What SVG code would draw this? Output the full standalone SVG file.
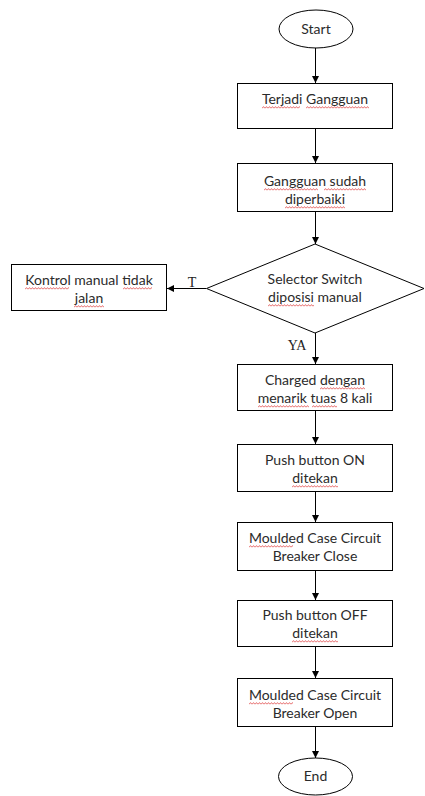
<svg xmlns="http://www.w3.org/2000/svg" width="425" height="796" viewBox="0 0 425 796">
<style>
.box{fill:#fff;stroke:#000;stroke-width:1}
.t{font-family:Lato,"Liberation Sans",sans-serif;font-size:14px;fill:#2b2b2b;text-anchor:middle}
.lbl{font-family:"Liberation Serif",serif;font-size:14px;fill:#222}
.c{stroke:#000;stroke-width:1;fill:none;marker-end:url(#ah)}
.w{fill:url(#wave)}
</style>
<defs>
<marker id="ah" markerWidth="8" markerHeight="8" refX="7" refY="4" orient="auto" markerUnits="userSpaceOnUse">
<path d="M0,0.5 L7,4 L0,7.5 Z" fill="#000"/>
</marker>
<pattern id="wave" patternUnits="userSpaceOnUse" width="3" height="3">
<path d="M0,2.4 L1.5,0.6 L3,2.4" fill="none" stroke="#e04848" stroke-width="0.8"/>
</pattern>
</defs>
<rect width="425" height="796" fill="#fff"/>
<g id="start">
<ellipse class="box" cx="316" cy="29" rx="37" ry="19"/>
<text class="t" x="316" y="34">Start</text>
</g>
<g id="n1">
<rect class="box" x="237.5" y="83.5" width="155" height="45"/>
<text class="t" x="315" y="104">Terjadi Gangguan</text>
<rect class="w" transform="translate(262,106)" width="38" height="3"/>
<rect class="w" transform="translate(306,106)" width="63" height="3"/>
</g>
<g id="n2">
<rect class="box" x="237.5" y="163.5" width="155" height="48"/>
<text class="t" x="315" y="186">Gangguan sudah</text>
<text class="t" x="315" y="204">diperbaiki</text>
<rect class="w" transform="translate(264,188)" width="54" height="3"/>
<rect class="w" transform="translate(324,188)" width="42" height="3"/>
<rect class="w" transform="translate(285,206)" width="60" height="3"/>
</g>
<g id="decision">
<polygon class="box" points="315,244 424,288.5 315,333 206.5,288.5"/>
<text class="t" x="315" y="284">Selector Switch</text>
<text class="t" x="315" y="302">diposisi manual</text>
<rect class="w" transform="translate(268,304)" width="46" height="3"/>
</g>
<g id="n_no">
<rect class="box" x="11.5" y="264.5" width="155" height="46"/>
<text class="t" x="89" y="285">Kontrol manual tidak</text>
<text class="t" x="89" y="303">jalan</text>
<rect class="w" transform="translate(25,287)" width="44" height="3"/>
<rect class="w" transform="translate(123,287)" width="29" height="3"/>
<rect class="w" transform="translate(74,305)" width="30" height="3"/>
</g>
<g id="n3">
<rect class="box" x="237.5" y="364.5" width="155" height="46"/>
<text class="t" x="315" y="385">Charged dengan</text>
<text class="t" x="315" y="403">menarik tuas 8 kali</text>
<rect class="w" transform="translate(320,387)" width="45" height="3"/>
<rect class="w" transform="translate(258,405)" width="51" height="3"/>
<rect class="w" transform="translate(312,405)" width="25" height="3"/>
</g>
<g id="n4">
<rect class="box" x="237.5" y="444.5" width="155" height="47"/>
<text class="t" x="315" y="465">Push button ON</text>
<text class="t" x="315" y="483">ditekan</text>
<rect class="w" transform="translate(292,485)" width="46" height="3"/>
</g>
<g id="n5">
<rect class="box" x="237.5" y="522.5" width="155" height="48"/>
<text class="t" x="315" y="543">Moulded Case Circuit</text>
<text class="t" x="315" y="561">Breaker Close</text>
<rect class="w" transform="translate(249,545)" width="44" height="3"/>
</g>
<g id="n6">
<rect class="box" x="237.5" y="600.5" width="155" height="46"/>
<text class="t" x="315" y="620">Push button OFF</text>
<text class="t" x="315" y="638">ditekan</text>
<rect class="w" transform="translate(292,640)" width="46" height="3"/>
</g>
<g id="n7">
<rect class="box" x="237.5" y="678.5" width="155" height="48"/>
<text class="t" x="315" y="700">Moulded Case Circuit</text>
<text class="t" x="315" y="718">Breaker Open</text>
<rect class="w" transform="translate(249,702)" width="44" height="3"/>
</g>
<g id="end">
<ellipse class="box" cx="315.5" cy="776.5" rx="37" ry="18.5"/>
<text class="t" x="315.5" y="781">End</text>
</g>
<g id="connectors">
<line class="c" x1="315.5" y1="48" x2="315.5" y2="83"/>
<line class="c" x1="315.5" y1="129" x2="315.5" y2="163"/>
<line class="c" x1="315.5" y1="212" x2="315.5" y2="244"/>
<line class="c" x1="206" y1="288.5" x2="167" y2="288.5"/>
<line class="c" x1="315.5" y1="333" x2="315.5" y2="364"/>
<line class="c" x1="315.5" y1="411" x2="315.5" y2="444"/>
<line class="c" x1="315.5" y1="492" x2="315.5" y2="522"/>
<line class="c" x1="315.5" y1="571" x2="315.5" y2="600"/>
<line class="c" x1="315.5" y1="647" x2="315.5" y2="678"/>
<line class="c" x1="315.5" y1="727" x2="315.5" y2="758"/>
<text class="lbl" x="192" y="287" text-anchor="middle">T</text>
<text class="lbl" x="297" y="350" text-anchor="middle">YA</text>
</g>
</svg>
